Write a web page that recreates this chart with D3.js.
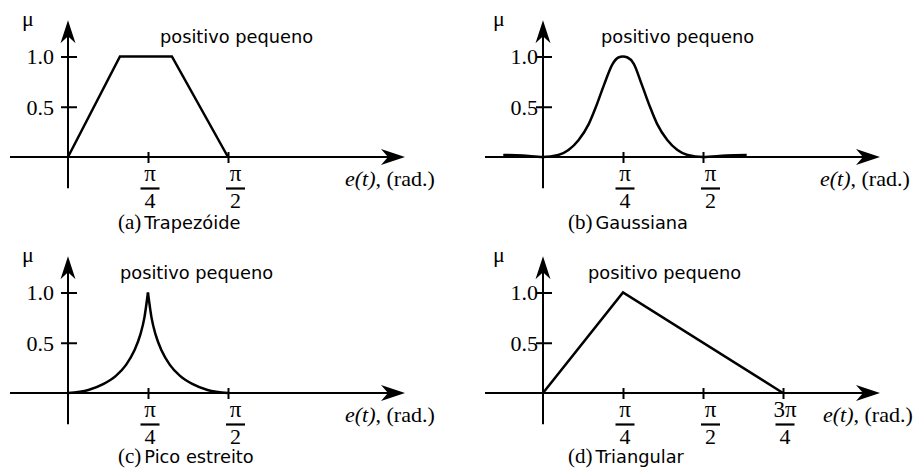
<!DOCTYPE html>
<html>
<head>
<meta charset="utf-8">
<script src="https://cdn.jsdelivr.net/npm/d3@7"></script>
<style>
  html, body { margin: 0; padding: 0; background: #fff; }
  svg { display: block; }
  .serif { font-family: "Liberation Serif", "DejaVu Serif", serif; fill: #000; }
  .sans { font-family: "DejaVu Sans", sans-serif; fill: #000; }
</style>
</head>
<body>
<svg id="chart" width="916" height="468"></svg>
<script>
// Membership functions of the fuzzy set "positivo pequeno".
// x values are the error e(t) in radians, y values the membership degree μ.
const trapezoidX = [0, 0.51, 1.02, 1.5708];
const trapezoidY = [0, 1, 1, 0];

const gaussX = [-0.39, -0.2, 0, 0.15, 0.25, 0.35, 0.45, 0.52, 0.60, 0.68, 0.74, 0.785,
                0.83, 0.89, 0.97, 1.05, 1.12, 1.22, 1.32, 1.42, 1.5708, 1.8, 2.0];
const gaussY = [0.02, 0.015, 0, 0.02, 0.07, 0.17, 0.33, 0.5, 0.72, 0.92, 0.99, 1.0,
                0.99, 0.93, 0.72, 0.5, 0.33, 0.17, 0.07, 0.02, 0, 0.015, 0.02];

const peakX = [0, 0.2, 0.35, 0.47, 0.57, 0.65, 0.71, 0.75, 0.785,
               0.82, 0.86, 0.92, 1.0, 1.1, 1.22, 1.37, 1.5708];
const peakY = [0, 0.03, 0.09, 0.17, 0.28, 0.42, 0.58, 0.75, 1.0,
               0.75, 0.58, 0.42, 0.28, 0.17, 0.09, 0.03, 0];

const triangleX = [0, 0.7854, 2.3562];
const triangleY = [0, 1, 0];

// Axis ticks
const yTickValues = [0.5, 1.0];
const yTickLabels = ["0.5", "1.0"];
const xTickValues = [0.7854, 1.5708, 2.3562];
const xTickNumerators = ["π", "π", "3π"];
const xTickDenominators = ["4", "2", "4"];

// Texts
const setName = "positivo pequeno";
const muLabel = "μ";
const captionTags = ["(a)", "(b)", "(c)", "(d)"];
const captionNames = ["Trapezóide", "Gaussiana", "Pico estreito", "Triangular"];

// Panel geometry
const PX_PER_RAD = 80 / (Math.PI / 4);
const PX_PER_UNIT = 100.5;
const frames = [
  { ox: 68,  oy: 157, tickGap: 14, muDx: -46, nameDx: 92, labelDx: 277, capDx: 50, capDy: 72 },
  { ox: 543, oy: 157, tickGap: 5,  muDx: -50, nameDx: 58, labelDx: 277, capDx: 25, capDy: 72 },
  { ox: 68,  oy: 393, tickGap: 14, muDx: -46, nameDx: 52, labelDx: 277, capDx: 50, capDy: 69.5 },
  { ox: 543, oy: 393, tickGap: 5,  muDx: -50, nameDx: 45, labelDx: 280, capDx: 25, capDy: 69.5 }
];
const fractionShift = [1.5, 7, 1.5];

const series = [
  { xs: trapezoidX, ys: trapezoidY, kind: "linear", nTicks: 2 },
  { xs: gaussX,     ys: gaussY,     kind: "smooth", nTicks: 2 },
  { xs: peakX,      ys: peakY,      kind: "cusp",   nTicks: 2 },
  { xs: triangleX,  ys: triangleY,  kind: "linear", nTicks: 3 }
];

const svg = d3.select("#chart");

series.forEach((s, i) => {
  const f = frames[i];
  const x = d3.scaleLinear().domain([0, 1]).range([f.ox, f.ox + PX_PER_RAD]);
  const y = d3.scaleLinear().domain([0, 1]).range([f.oy, f.oy - PX_PER_UNIT]);
  const g = svg.append("g");

  // horizontal axis with arrow
  const xLeft = x.invert(f.ox - 58), xTip = x.invert(f.ox + 337);
  const tipX = x(xTip);
  g.append("line")
    .attr("x1", x(xLeft)).attr("x2", tipX - 14)
    .attr("y1", f.oy).attr("y2", f.oy)
    .attr("stroke", "#000").attr("stroke-width", 2);
  g.append("path")
    .attr("d", `M${tipX},${f.oy} L${tipX - 24},${f.oy - 8} L${tipX - 17},${f.oy} L${tipX - 24},${f.oy + 8} Z`)
    .attr("fill", "#000");

  // vertical axis with arrow
  const tipY = y(1.36);
  g.append("line")
    .attr("x1", f.ox).attr("x2", f.ox)
    .attr("y1", y(-0.31)).attr("y2", tipY + 14)
    .attr("stroke", "#000").attr("stroke-width", 2);
  g.append("path")
    .attr("d", `M${f.ox},${tipY} L${f.ox - 7.5},${tipY + 23} L${f.ox},${tipY + 16} L${f.ox + 7.5},${tipY + 23} Z`)
    .attr("fill", "#000");

  // y ticks
  const yAxis = g.append("g").attr("transform", `translate(${f.ox},0)`)
    .call(d3.axisLeft(y).tickValues(yTickValues).tickSize(0)
      .tickFormat((d, k) => yTickLabels[k]));
  yAxis.select(".domain").remove();
  yAxis.attr("font-family", null).attr("font-size", null);
  yAxis.selectAll(".tick line")
    .attr("x1", -7).attr("x2", 9).attr("stroke", "#000").attr("stroke-width", 2);
  yAxis.selectAll(".tick text")
    .attr("class", "serif").attr("x", -f.tickGap).attr("dy", "0.34em")
    .attr("font-size", 22).attr("fill", "#000");

  // x ticks with fraction labels
  const ticks = xTickValues.slice(0, s.nTicks);
  const xAxis = g.append("g").attr("transform", `translate(0,${f.oy})`)
    .call(d3.axisBottom(x).tickValues(ticks).tickSize(0).tickFormat(""));
  xAxis.select(".domain").remove();
  xAxis.attr("font-family", null).attr("font-size", null);
  xAxis.selectAll(".tick line")
    .attr("y1", -5).attr("y2", 6).attr("stroke", "#000").attr("stroke-width", 2);
  xAxis.selectAll(".tick").each(function (d, k) {
    const t = d3.select(this);
    const dx = fractionShift[k];
    t.select("text").remove();
    t.append("text").attr("class", "serif").attr("x", dx).attr("y", 24)
      .attr("text-anchor", "middle").attr("font-size", 23).text(xTickNumerators[k]);
    t.append("line").attr("x1", dx - 9.5).attr("x2", dx + 9.5)
      .attr("y1", 31.5).attr("y2", 31.5).attr("stroke", "#000").attr("stroke-width", 2.2);
    t.append("text").attr("class", "serif").attr("x", dx).attr("y", 51)
      .attr("text-anchor", "middle").attr("font-size", 22).text(xTickDenominators[k]);
  });

  // membership curve
  const pts = s.xs.map((v, k) => [v, s.ys[k]]);
  const line = d3.line().x(d => x(d[0])).y(d => y(d[1]));
  const curveStyle = p => p.attr("fill", "none").attr("stroke", "#000")
    .attr("stroke-width", 2.5).attr("stroke-linejoin", "miter");
  if (s.kind === "linear") {
    g.append("path").attr("d", line.curve(d3.curveLinear)(pts)).call(curveStyle);
  } else if (s.kind === "smooth") {
    g.append("path").attr("d", line.curve(d3.curveMonotoneX)(pts)).call(curveStyle);
  } else {
    const top = d3.maxIndex(pts, d => d[1]);
    g.append("path").attr("d", line.curve(d3.curveMonotoneX)(pts.slice(0, top + 1))).call(curveStyle);
    g.append("path").attr("d", line.curve(d3.curveMonotoneX)(pts.slice(top))).call(curveStyle);
  }

  // μ label
  g.append("text").attr("class", "serif").attr("x", f.ox + f.muDx).attr("y", f.oy - 131)
    .attr("font-size", 22).text(muLabel);

  // set name
  g.append("text").attr("class", "sans").attr("x", f.ox + f.nameDx).attr("y", f.oy - 114)
    .attr("font-size", 17.8).text(setName);

  // horizontal axis label
  const lab = g.append("text").attr("class", "serif").attr("x", f.ox + f.labelDx)
    .attr("y", f.oy + 29).attr("font-size", 22);
  lab.append("tspan").attr("font-style", "italic").text("e(t)");
  lab.append("tspan").text(", (rad.)");

  // caption
  const cap = g.append("text").attr("x", f.ox + f.capDx).attr("y", f.oy + f.capDy);
  cap.append("tspan").attr("class", "serif").attr("font-size", 21).text(captionTags[i]);
  cap.append("tspan").attr("class", "sans").attr("font-size", 17.8).attr("dx", 3)
    .text(captionNames[i]);
});
</script>
</body>
</html>
